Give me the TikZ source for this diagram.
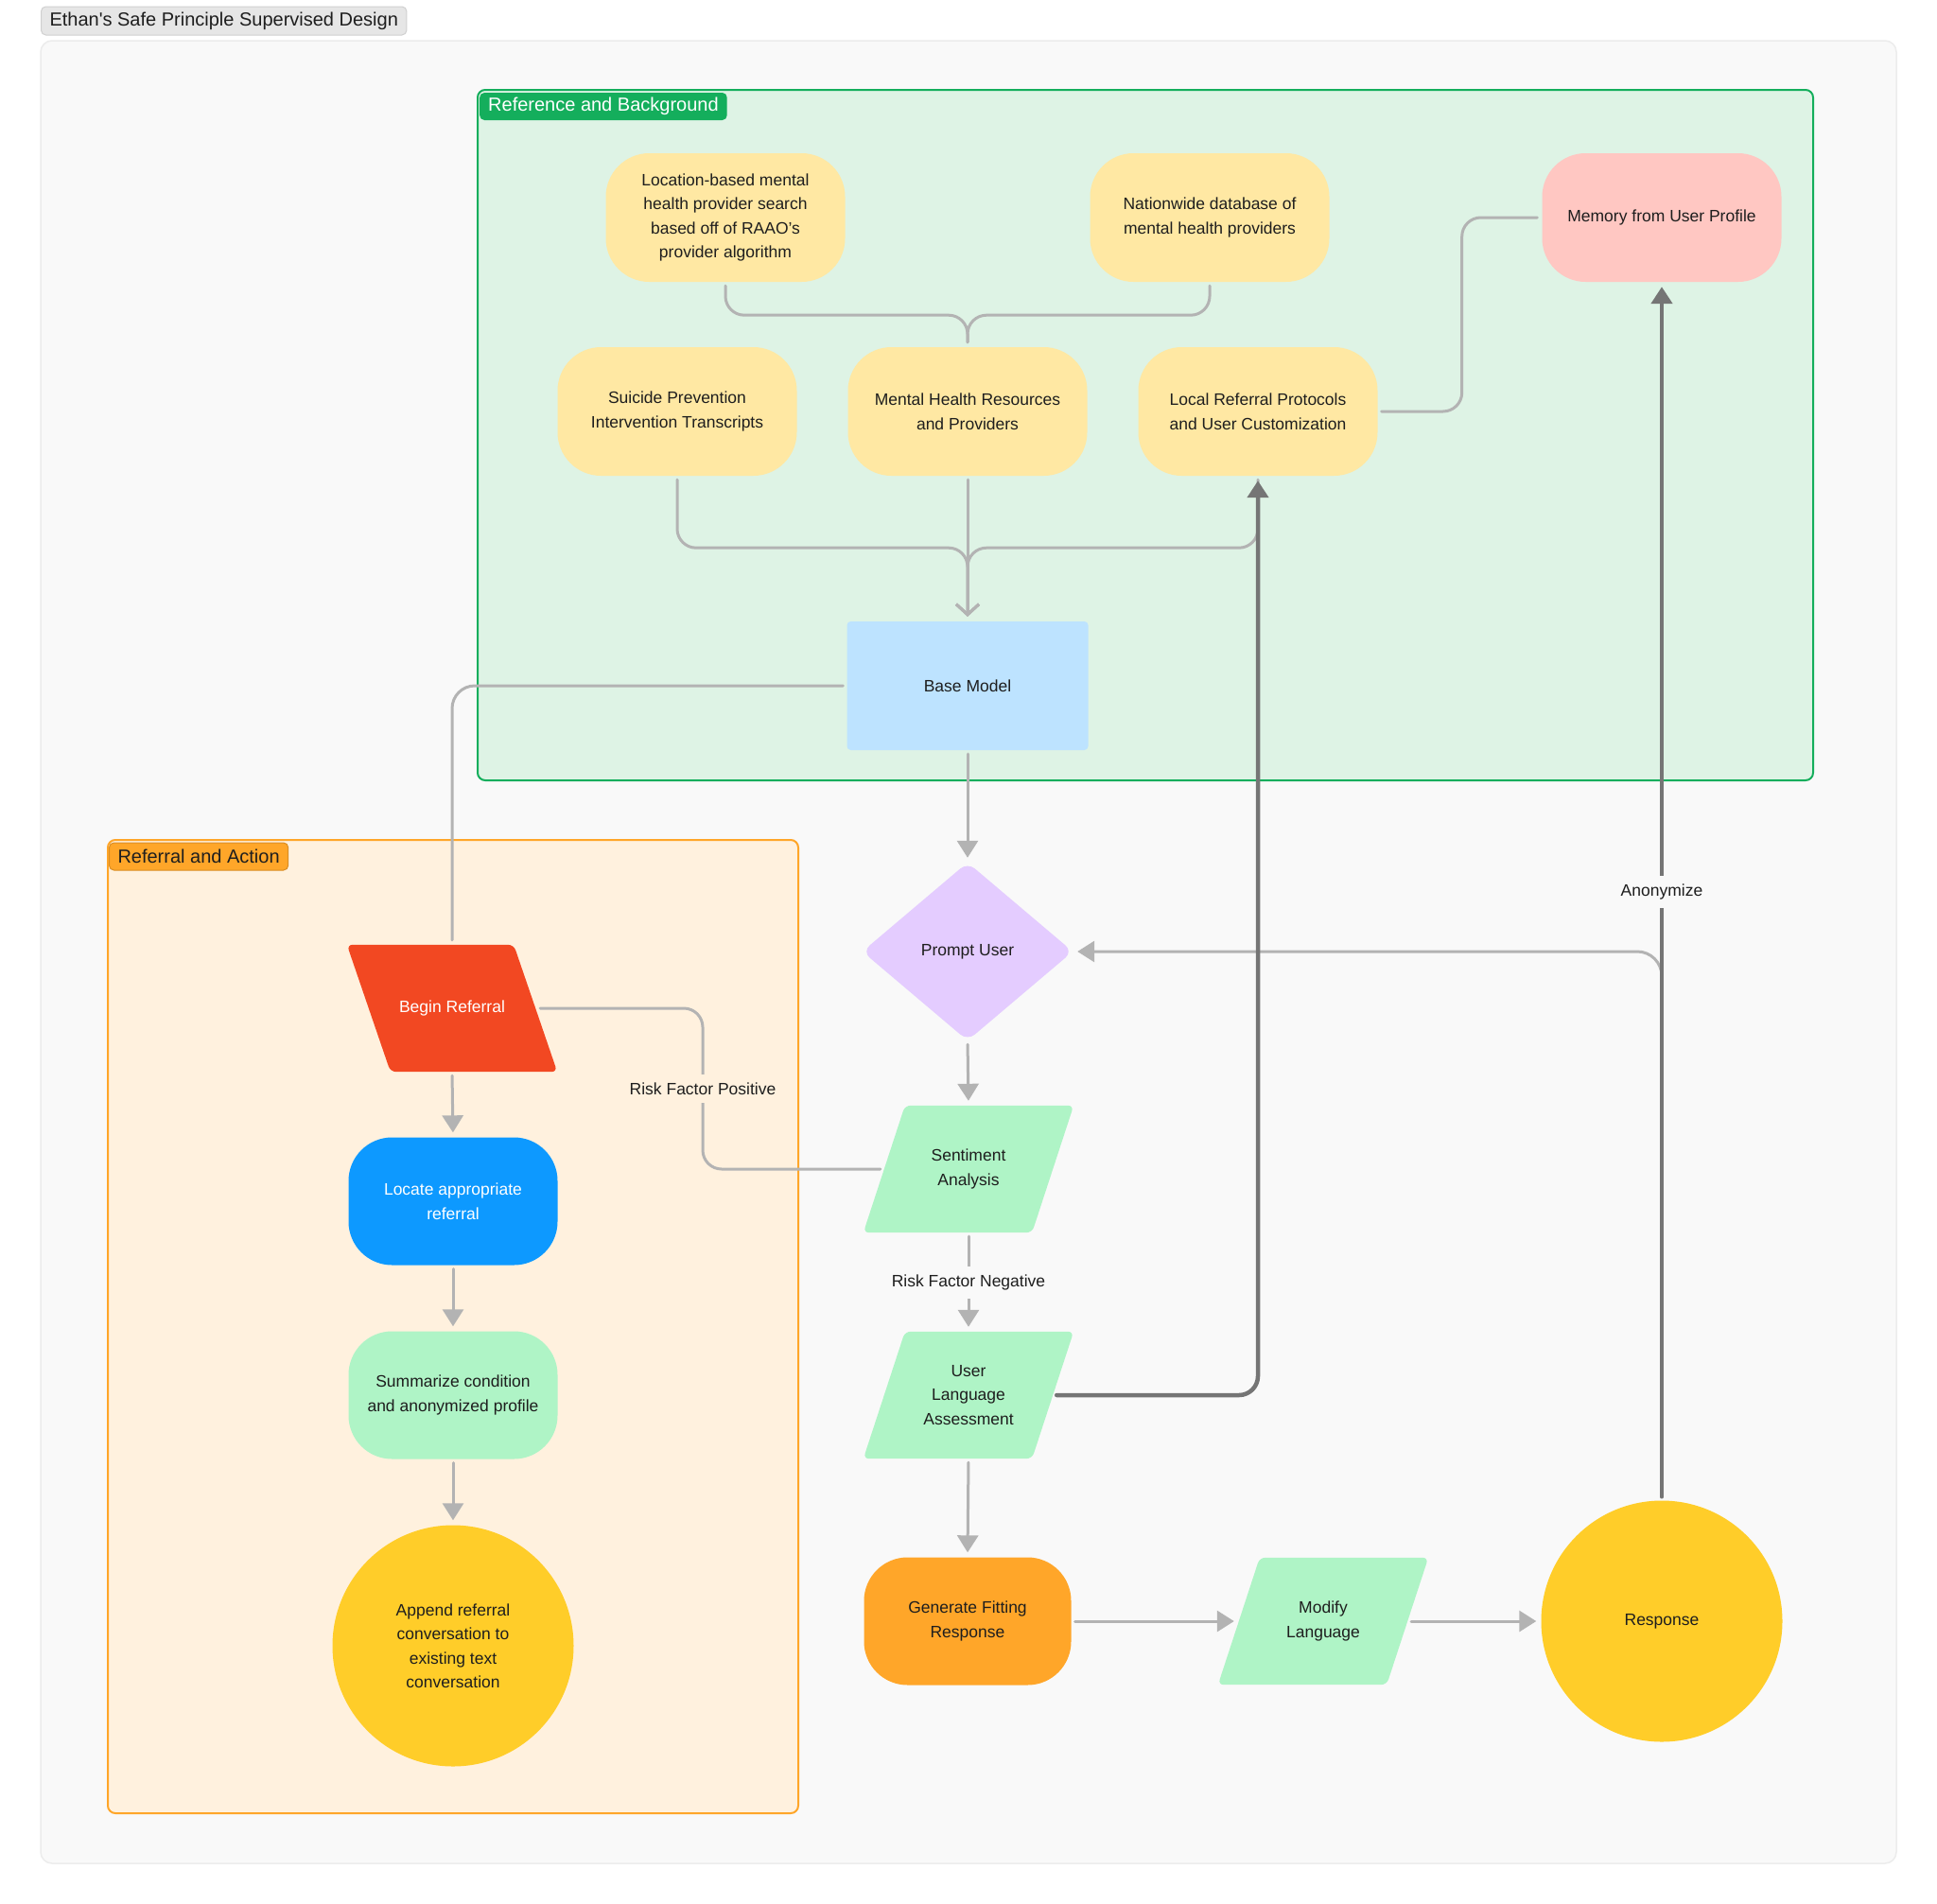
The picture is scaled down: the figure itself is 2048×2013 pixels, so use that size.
\documentclass[tikz,border=0pt]{standalone}
\usepackage{fontspec}
\setmainfont{Liberation Sans}
\usetikzlibrary{arrows.meta,calc}
\pgfdeclarelayer{bg}
\pgfdeclarelayer{shapes}
\pgfdeclarelayer{lines}
\pgfsetlayers{bg,shapes,lines,main}
\definecolor{panelfill}{HTML}{F9F9F9}
\definecolor{panelline}{HTML}{ECECEC}
\definecolor{titlefill}{HTML}{E6E6E6}
\definecolor{titleline}{HTML}{D0D0D0}
\definecolor{grnfill}{HTML}{DEF3E5}
\definecolor{grnline}{HTML}{14AE5C}
\definecolor{orgfill}{HTML}{FFF1DE}
\definecolor{orgline}{HTML}{FFA629}
\definecolor{cyel}{HTML}{FFE8A3}
\definecolor{cpink}{HTML}{FFC7C2}
\definecolor{clblue}{HTML}{BDE3FF}
\definecolor{clilac}{HTML}{E4CCFF}
\definecolor{cmint}{HTML}{AFF4C6}
\definecolor{corng}{HTML}{FFA629}
\definecolor{cgold}{HTML}{FFCD29}
\definecolor{cred}{HTML}{F24822}
\definecolor{cblue}{HTML}{0D99FF}
\definecolor{ink}{HTML}{1E1E1E}
\definecolor{lgray}{HTML}{B3B3B3}
\definecolor{dgray}{HTML}{757575}
\newcommand{\myNodeFont}{\fontsize{17.5}{25.5}\selectfont}
\newcommand{\myTabFont}{\fontsize{20}{24}\selectfont}
\begin{document}
\begin{tikzpicture}[x=1pt,y=-1pt,
  every node/.style={text=ink, font=\myNodeFont},
  box/.style={rounded corners=46, minimum width=253, minimum height=136, inner sep=0, align=center},
  smallbox/.style={box, minimum width=221, minimum height=135},
  para/.style={minimum width=222, minimum height=134, inner sep=0, align=center},
  roundnode/.style={circle, minimum size=255, inner sep=0, fill=cgold, align=center},
  lbl/.style={inner xsep=6, inner ysep=9},
  tab/.style={font=\myTabFont, rounded corners=5, minimum height=29, inner xsep=9, inner ysep=0, anchor=west},
  conn/.style={draw=lgray, line width=3, rounded corners=20, line cap=round, shorten <=4pt, shorten >=5pt},
  dconn/.style={draw=dgray, line width=4.5, rounded corners=20, line cap=round, shorten <=4pt, shorten >=5pt},
  arr/.style={-{Triangle[length=18pt,width=22pt]}},
  barb/.style={-{Straight Barb[length=11pt,width=24pt]}}
]
\useasboundingbox (0,0) rectangle (2048,2013);
\begin{pgfonlayer}{bg}
\fill[white] (0,0) rectangle (2048,2013);
\draw[panelline, fill=panelfill, line width=1.5, rounded corners=12] (43,43) rectangle (2005,1970);
\draw[grnline, fill=grnfill, line width=2, rounded corners=8] (505,95) rectangle (1917,825);
\draw[orgline, fill=orgfill, line width=2, rounded corners=8] (114,888) rectangle (844,1917);
\end{pgfonlayer}

% title and group tabs
\node[tab, fill=titlefill, draw=titleline, line width=1, minimum height=30] (title) at (43,22) {Ethan\textquotesingle s Safe Principle Supervised Design};
\node[tab, fill=grnline, text=white] (tabgrn) at (507,112.5) {Reference and Background};
\node[tab, fill=corng, draw=orgline!85!black, line width=1] (taborg) at (115,905.5) {Referral and Action};

% reference nodes
\node[box, fill=cyel] (loc) at (767,230) {Location-based mental\\health provider search\\based off of RAAO’s\\provider algorithm};
\node[box, fill=cyel] (nat) at (1279,230) {Nationwide database of\\mental health providers};
\node[box, fill=cpink] (mem) at (1757,230) {Memory from User Profile};
\node[box, fill=cyel] (sui) at (716,435) {Suicide Prevention\\Intervention Transcripts};
\node[box, fill=cyel] (mhr) at (1023,435) {Mental Health Resources\\and Providers};
\node[box, fill=cyel] (lrp) at (1330,435) {Local Referral Protocols\\and User Customization};
\node[box, rounded corners=4, minimum width=255, fill=clblue] (base) at (1023,725) {Base Model};

% main flow
\node[minimum width=222, minimum height=188, inner sep=0] (prompt) at (1023,1006) {Prompt User};
\node[para] (sent) at (1024,1236) {Sentiment\\Analysis};
\node[para] (ula) at (1024,1475) {User\\Language\\Assessment};
\node[smallbox, minimum width=219, fill=corng] (gfr) at (1023,1714) {Generate Fitting\\Response};
\node[para] (mod) at (1399,1714) {Modify\\Language};
\node[roundnode] (resp) at (1757,1714) {Response};

% referral group
\node[para, text=white] (begin) at (478,1066) {Begin Referral};
\node[smallbox, fill=cblue, text=white] (locate) at (479,1270) {Locate appropriate\\referral};
\node[smallbox, fill=cmint] (summ) at (479,1475) {Summarize condition\\and anonymized profile};
\node[roundnode] (append) at (479,1740) {Append referral\\conversation to\\existing text\\conversation};

% labels
\node[lbl, fill=orgfill] (rfp) at (743,1151) {Risk Factor Positive};
\node[lbl, fill=panelfill] (rfn) at (1024,1356) {Risk Factor Negative};
\node[lbl, fill=panelfill] (anon) at (1757,943) {Anonymize};

% shapes behind text
\begin{pgfonlayer}{shapes}
\fill[clilac, rounded corners=10] (prompt.north) -- (prompt.east) -- (prompt.south) -- (prompt.west) -- cycle;
\fill[cmint, rounded corners=6] ([xshift=44]sent.north west) -- (sent.north east) -- ([xshift=-44]sent.south east) -- (sent.south west) -- cycle;
\fill[cmint, rounded corners=6] ([xshift=44]ula.north west) -- (ula.north east) -- ([xshift=-44]ula.south east) -- (ula.south west) -- cycle;
\fill[cmint, rounded corners=6] ([xshift=44]mod.north west) -- (mod.north east) -- ([xshift=-44]mod.south east) -- (mod.south west) -- cycle;
\fill[cred, rounded corners=6] (begin.north west) -- ([xshift=-46]begin.north east) -- (begin.south east) -- ([xshift=46]begin.south west) -- cycle;
\end{pgfonlayer}

% connectors
\begin{pgfonlayer}{lines}
\draw[conn] (loc.south) -- ++(0,35) -| (mhr.north);
\draw[conn] (nat.south) -- ++(0,35) -| (mhr.north);
\draw[conn, barb] (sui.south) -- ++(0,76) -| (base.north);
\draw[conn, barb] (mhr.south) -- (base.north);
\draw[conn, barb] (lrp.south) -- ++(0,76) -| (base.north);
\draw[conn] (lrp.east) -- ++(89,0) |- (mem.west);
\draw[conn, rounded corners=24] (base.west) -| (begin.north);
\draw[conn, arr] (base.south) -- (prompt.north);
\draw[conn, arr] (prompt.south) -- (sent.north);
\draw[conn] ([xshift=22]sent.west) -| (rfp.center) |- ([xshift=-23]begin.east);
\draw[conn, arr] (sent.south) -- (rfn.center) -- (ula.north);
\draw[conn, arr] (ula.south) -- (gfr.north);
\draw[conn, arr] (gfr.east) -- ([xshift=22]mod.west);
\draw[conn, arr] ([xshift=-22]mod.east) -- (resp.west);
\draw[conn, arr, rounded corners=26] (resp.north) |- (prompt.east);
\draw[dconn, arr] ([xshift=-22]ula.east) -| (lrp.south);
\draw[dconn, arr] (resp.north) -- (anon.center) -- (mem.south);
\draw[conn, arr] (begin.south) -- (locate.north);
\draw[conn, arr] (locate.south) -- (summ.north);
\draw[conn, arr] (summ.south) -- (append.north);
\end{pgfonlayer}
\end{tikzpicture}
\end{document}
